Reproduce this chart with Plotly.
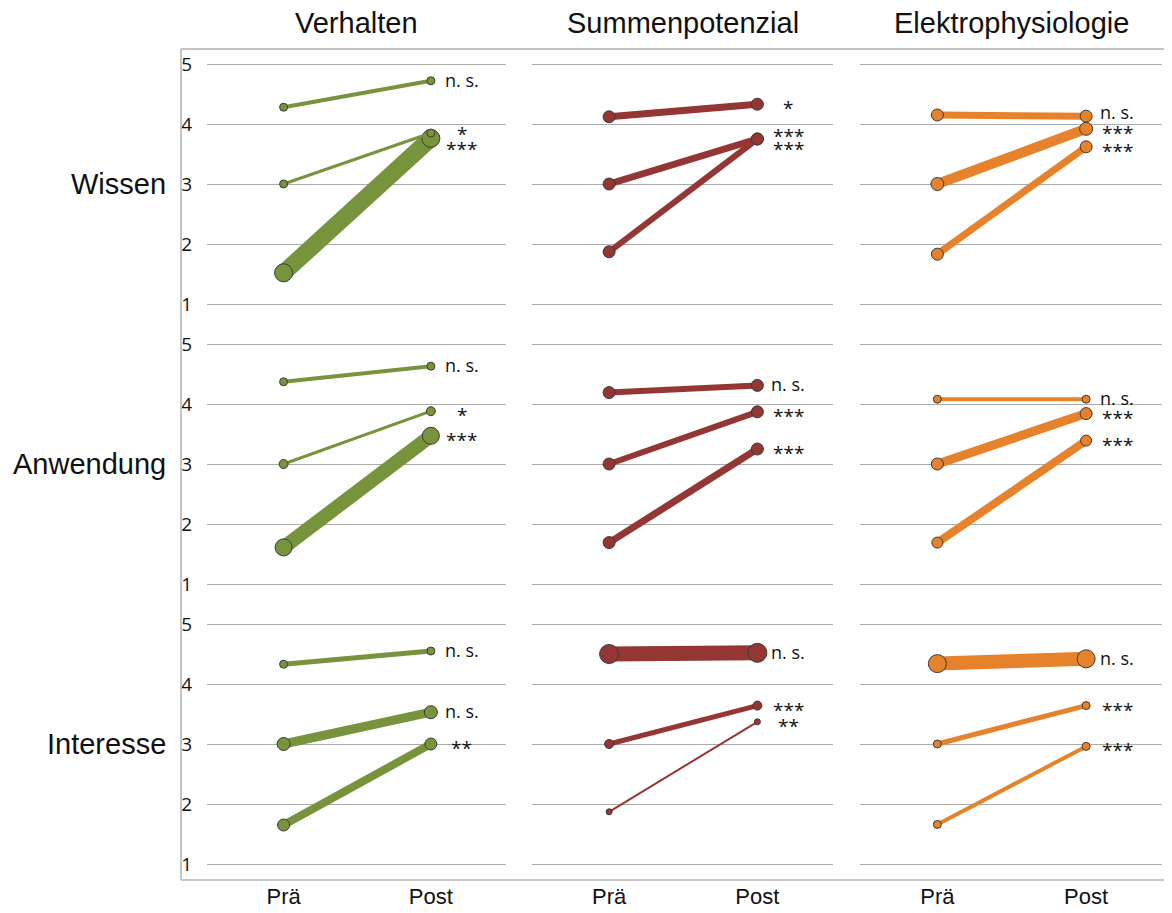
import plotly.graph_objects as go

# ---------------- data ----------------
columns = ["Verhalten", "Summenpotenzial", "Elektrophysiologie"]
rows = ["Wissen", "Anwendung", "Interesse"]
time_labels = ["Prä", "Post"]
y_ticks = [1, 2, 3, 4, 5]

# each list: three groups (top, middle, bottom line)
pre_wissen_verhalten = [4.28, 3.00, 1.52]
post_wissen_verhalten = [4.72, 3.85, 3.76]
sig_wissen_verhalten = ["n. s.", "*", "***"]

pre_wissen_summen = [4.12, 3.00, 1.87]
post_wissen_summen = [4.33, 3.75, 3.75]
sig_wissen_summen = ["*", "***", "***"]

pre_wissen_elektro = [4.15, 3.00, 1.83]
post_wissen_elektro = [4.13, 3.92, 3.62]
sig_wissen_elektro = ["n. s.", "***", "***"]

pre_anwendung_verhalten = [4.37, 3.00, 1.61]
post_anwendung_verhalten = [4.63, 3.88, 3.47]
sig_anwendung_verhalten = ["n. s.", "*", "***"]

pre_anwendung_summen = [4.19, 3.00, 1.69]
post_anwendung_summen = [4.31, 3.87, 3.25]
sig_anwendung_summen = ["n. s.", "***", "***"]

pre_anwendung_elektro = [4.08, 3.00, 1.69]
post_anwendung_elektro = [4.08, 3.84, 3.39]
sig_anwendung_elektro = ["n. s.", "***", "***"]

pre_interesse_verhalten = [4.33, 3.00, 1.65]
post_interesse_verhalten = [4.55, 3.53, 3.00]
sig_interesse_verhalten = ["n. s.", "n. s.", "**"]

pre_interesse_summen = [4.50, 3.00, 1.87]
post_interesse_summen = [4.52, 3.64, 3.37]
sig_interesse_summen = ["n. s.", "***", "**"]

pre_interesse_elektro = [4.34, 3.00, 1.66]
post_interesse_elektro = [4.42, 3.64, 2.96]
sig_interesse_elektro = ["n. s.", "***", "***"]

# ---------------- styles ----------------
lw_wissen = [[4, 3, 17], [7, 7, 6], [7, 10, 7]]
ms_wissen = [[8, 8, 18], [12, 12, 12], [12, 13, 12]]
lw_anwendung = [[4, 3, 14], [6, 6, 7], [4, 9, 8]]
ms_anwendung = [[8, 9, 17], [12, 12, 12], [8, 12, 11]]
lw_interesse = [[5, 9, 8], [15, 5, 2], [14, 5, 4]]
ms_interesse = [[8, 13, 12], [19, 9, 6], [18, 8, 8]]
# label nudges (px) to avoid overlapping labels
label_nudge_wissen = [[0, 3, -7], [0, 7, -6], [3, 0, 0]]

colors = ["#77933C", "#943634", "#E5822B"]

pre = [
    [pre_wissen_verhalten, pre_wissen_summen, pre_wissen_elektro],
    [pre_anwendung_verhalten, pre_anwendung_summen, pre_anwendung_elektro],
    [pre_interesse_verhalten, pre_interesse_summen, pre_interesse_elektro],
]
post = [
    [post_wissen_verhalten, post_wissen_summen, post_wissen_elektro],
    [post_anwendung_verhalten, post_anwendung_summen, post_anwendung_elektro],
    [post_interesse_verhalten, post_interesse_summen, post_interesse_elektro],
]
sig = [
    [sig_wissen_verhalten, sig_wissen_summen, sig_wissen_elektro],
    [sig_anwendung_verhalten, sig_anwendung_summen, sig_anwendung_elektro],
    [sig_interesse_verhalten, sig_interesse_summen, sig_interesse_elektro],
]
lws = [lw_wissen, lw_anwendung, lw_interesse]
mss = [ms_wissen, ms_anwendung, ms_interesse]
nudges = [label_nudge_wissen, [[0] * 3] * 3, [[0] * 3] * 3]

W, H = 1172, 913
OFF = 8  # page body margin


def px_x(p):
    return (p - OFF) / W


def px_y(p):
    return 1 - (p - OFF) / H


col_px = [(207, 506), (532, 833), (860, 1162)]
# pixel rows of value 5 and value 1
row_px = [(64, 304), (344, 584), (624, 864)]
YMIN, YMAX = 0.9, 5.1

fig = go.Figure()
layout = dict(
    width=W, height=H,
    margin=dict(l=0, r=0, t=0, b=0, pad=0, autoexpand=False),
    paper_bgcolor="white", plot_bgcolor="white", showlegend=False,
)
annotations = []

ns_font = dict(family="Open Sans", size=18, color="#111111")
star_font = dict(family="Open Sans", size=19, color="#111111")

for r in range(3):
    for c in range(3):
        n = r * 3 + c + 1
        sfx = "" if n == 1 else str(n)
        xa, ya = "x" + sfx, "y" + sfx
        x0, x1 = col_px[c]
        y5, y1 = row_px[r]
        unit = (y1 - y5) / 4.0
        top = y5 - (YMAX - 5) * unit
        bot = y1 + (1 - YMIN) * unit
        layout["xaxis" + sfx] = dict(
            domain=[px_x(x0), px_x(x1)], anchor=ya, type="category",
            categoryorder="array", categoryarray=time_labels,
            range=[-0.52, 1.51], showgrid=False, zeroline=False, showline=False,
            automargin=False,
            showticklabels=(r == 2), ticks="outside" if r == 2 else "",
            ticklen=13 - (1 - YMIN) * unit, tickcolor="rgba(0,0,0,0)",
            tickfont=dict(family="Liberation Sans, Arial", size=22, color="#111111"),
        )
        layout["yaxis" + sfx] = dict(
            domain=[px_y(bot), px_y(top)], anchor=xa,
            range=[YMIN, YMAX], tickvals=y_ticks, showgrid=True,
            gridcolor="#ABABAB", gridwidth=1, zeroline=False, showline=False,
            automargin=False,
            showticklabels=(c == 0), ticks="outside" if c == 0 else "",
            ticklen=10, tickcolor="rgba(0,0,0,0)",
            tickfont=dict(family="Open Sans", size=19, color="#111111"),
        )
        # draw bottom line first so smaller markers stay on top
        for i in [2, 1, 0]:
            fig.add_trace(go.Scatter(
                x=time_labels, y=[pre[r][c][i], post[r][c][i]],
                xaxis=xa, yaxis=ya, mode="lines+markers",
                line=dict(color=colors[c], width=lws[r][c][i]),
                marker=dict(size=mss[r][c][i], color=colors[c],
                            line=dict(color="#3A3A3A", width=1)),
                cliponaxis=False, hoverinfo="skip",
            ))
        for i in range(3):
            txt = sig[r][c][i]
            is_star = "*" in txt
            annotations.append(dict(
                xref=xa, yref=ya, x="Post", y=post[r][c][i],
                xshift=31, yshift=nudges[r][c][i] + (-4 if is_star else 1),
                text=txt, showarrow=False, xanchor="center", yanchor="middle",
                font=star_font if is_star else ns_font,
            ))

# column titles
title_font = dict(family="Liberation Sans, Arial", size=29, color="#111111")
for c, name in enumerate(columns):
    x0, x1 = col_px[c]
    annotations.append(dict(
        xref="paper", yref="paper", x=px_x((x0 + x1) / 2), y=px_y(23),
        text=name, showarrow=False, xanchor="center", yanchor="middle",
        font=title_font,
    ))
# row labels
for r, name in enumerate(rows):
    n = r * 3 + 1
    sfx = "" if n == 1 else str(n)
    annotations.append(dict(
        xref="paper", yref="y" + sfx, x=px_x(168), y=3,
        text=name, showarrow=False, xanchor="right", yanchor="middle",
        font=title_font,
    ))

frame = dict(color="#C4C4C4", width=2)
shapes = [
    dict(type="line", xref="paper", yref="paper", x0=px_x(181), x1=px_x(181),
         y0=px_y(880), y1=px_y(49), line=frame),
    dict(type="line", xref="paper", yref="paper", x0=px_x(181), x1=1,
         y0=px_y(49), y1=px_y(49), line=frame),
    dict(type="line", xref="paper", yref="paper", x0=px_x(181), x1=1,
         y0=px_y(880), y1=px_y(880), line=frame),
]

layout["annotations"] = annotations
layout["shapes"] = shapes
fig.update_layout(**layout)
fig.write_html("out.html")
